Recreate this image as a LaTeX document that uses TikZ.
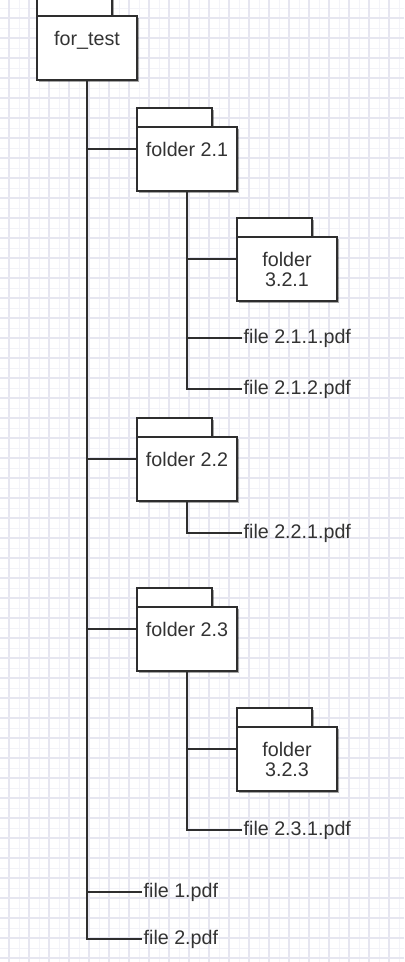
\documentclass[tikz,border=0pt]{standalone}
\usepackage{fontspec}
\setmainfont{Liberation Sans}
\usetikzlibrary{positioning, calc, shadows}
\definecolor{treeline}{HTML}{2E2E2E}
\definecolor{treetext}{HTML}{333333}
\definecolor{gridmajor}{HTML}{E6E6F0}
\definecolor{gridminor}{HTML}{F3F3F8}

\begin{document}
\begin{tikzpicture}[x=0.025cm, y=-0.025cm,
    treefont/.style={font=\fontsize{14}{14.2}\selectfont, text=treetext},
    folder/.style={rectangle, draw=treeline, line width=1.4pt, fill=white, outer sep=0pt, inner sep=0pt,
      minimum width=2.5cm, minimum height=1.6cm, align=center, anchor=north west, treefont,
      drop shadow={shadow xshift=1.4pt, shadow yshift=-1.4pt, fill=black, opacity=0.35}},
    tab/.style={rectangle, draw=treeline, line width=1.4pt, fill=white, outer sep=0pt,
      minimum width=1.875cm, minimum height=0.475cm, anchor=south west,
      drop shadow={shadow xshift=1.4pt, shadow yshift=-1.4pt, fill=black, opacity=0.35}},
    file/.style={anchor=west, inner sep=1pt, treefont},
    branch/.style={draw=treeline, line width=1.4pt}
  ]
  \useasboundingbox (0,0) rectangle (404,962);
  % background grid
  \fill[white] (0,0) rectangle (404,962);
  \foreach \gx in {-1,19,...,409} \draw[gridminor, line width=0.6pt] (\gx,0) -- (\gx,962);
  \foreach \gy in {8,28,...,968} \draw[gridminor, line width=0.6pt] (0,\gy) -- (404,\gy);
  \foreach \gx in {9,29,...,409} \draw[gridmajor, line width=0.8pt] (\gx,0) -- (\gx,962);
  \foreach \gy in {18,38,...,968} \draw[gridmajor, line width=0.8pt] (0,\gy) -- (404,\gy);

  % folders
  \node[tab] (troot) at (37,16) {};
  \node[folder] (root) at (troot.south west) {for\_test\\ ~};
  \node[tab] (t21) at (137,127) {};
  \node[folder] (f21) at (t21.south west) {folder 2.1\\ ~};
  \node[tab] (t321) at (237,237) {};
  \node[folder] (f321) at (t321.south west) {folder\\3.2.1};
  \node[tab] (t22) at (137,437) {};
  \node[folder] (f22) at (t22.south west) {folder 2.2\\ ~};
  \node[tab] (t23) at (137,607) {};
  \node[folder] (f23) at (t23.south west) {folder 2.3\\ ~};
  \node[tab] (t323) at (237,727) {};
  \node[folder] (f323) at (t323.south west) {folder\\3.2.3};

  % files
  \node[file] (file211) at (242,338) {file 2.1.1.pdf};
  \node[file] (file212) at (242,389) {file 2.1.2.pdf};
  \node[file] (file221) at (242,533) {file 2.2.1.pdf};
  \node[file] (file231) at (242,830) {file 2.3.1.pdf};
  \node[file] (file1) at (142,892) {file 1.pdf};
  \node[file] (file2) at (142,939) {file 2.pdf};

  % branches
  \draw[branch] ([yshift=0.25cm]f21.west) -| (root.south);
  \draw[branch] ([yshift=0.25cm]f22.west) -| (root.south);
  \draw[branch] ([yshift=0.25cm]f23.west) -| (root.south);
  \draw[branch] (file1.west) -| (root.south);
  \draw[branch] (file2.west) -| (root.south);
  \draw[branch] ([yshift=0.25cm]f321.west) -| (f21.south);
  \draw[branch] (file211.west) -| (f21.south);
  \draw[branch] (file212.west) -| (f21.south);
  \draw[branch] (file221.west) -| (f22.south);
  \draw[branch] ([yshift=0.25cm]f323.west) -| (f23.south);
  \draw[branch] (file231.west) -| (f23.south);
\end{tikzpicture}
\end{document}
